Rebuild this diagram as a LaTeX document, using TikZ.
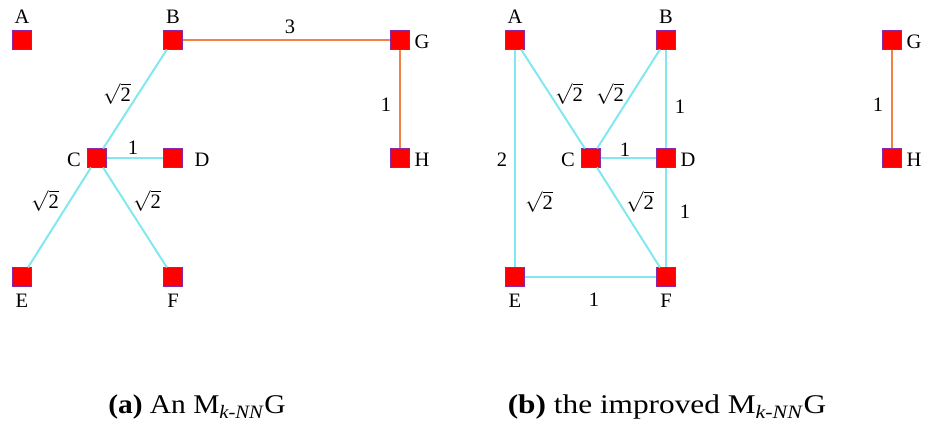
\documentclass[tikz,border=0pt]{standalone}
\usepackage{fontspec}
\setmainfont{Liberation Serif}
\newcommand{\rttwo}{\(\sqrt{\mbox{2}}\)}
\begin{document}
\begin{tikzpicture}[x=1pt,y=-1pt,
  vert/.style={draw={rgb,255:red,140;green,40;blue,170},line width=0.6pt,fill=red,minimum size=18.5pt,inner sep=0pt},
  lab/.style={font=\fontsize{20.5}{20.5}\selectfont,inner sep=1pt},
  elab/.style={font=\fontsize{20.5}{20.5}\selectfont,inner sep=1pt},
  cy/.style={draw={rgb,255:red,130;green,232;blue,240},line width=2pt},
  og/.style={draw={rgb,255:red,240;green,130;blue,70},line width=2pt},
  captext/.style={font=\fontsize{27}{27}\selectfont,inner sep=0pt}]
\useasboundingbox (0,0) rectangle (930,423);
% panel (a)
\node[vert] (A1) at (22,40) {};
\node[vert] (B1) at (173,40) {};
\node[vert] (G1) at (400,40) {};
\node[vert] (C1) at (97,158) {};
\node[vert] (D1) at (173,158) {};
\node[vert] (H1) at (400,158) {};
\node[vert] (E1) at (22,277) {};
\node[vert] (F1) at (173,277) {};
\draw[cy] (B1) -- (C1);
\draw[cy] (C1) -- (D1);
\draw[cy] (C1) -- (E1);
\draw[cy] (C1) -- (F1);
\draw[og] (B1) -- (G1);
\draw[og] (G1) -- (H1);
\node[lab] (lA1) at (22,17) {A};
\node[lab] (lB1) at (173,17) {B};
\node[lab] (lG1) at (422,42) {G};
\node[lab] (lC1) at (74,160) {C};
\node[lab] (lD1) at (202,160) {D};
\node[lab] (lH1) at (422,160) {H};
\node[lab] (lE1) at (22,301) {E};
\node[lab] (lF1) at (173,301) {F};
\node[elab] (w1) at (290,27) {3};
\node[elab] (w2) at (117,94) {\rttwo};
\node[elab] (w3) at (133,148) {1};
\node[elab] (w4) at (386,105) {1};
\node[elab] (w5) at (45,201) {\rttwo};
\node[elab] (w6) at (147,201) {\rttwo};
% panel (b)
\node[vert] (A2) at (515,40) {};
\node[vert] (B2) at (666,40) {};
\node[vert] (C2) at (591,158) {};
\node[vert] (D2) at (666,158) {};
\node[vert] (E2) at (515,277) {};
\node[vert] (F2) at (666,277) {};
\node[vert] (G2) at (892,40) {};
\node[vert] (H2) at (892,158) {};
\draw[cy] (A2) -- (C2);
\draw[cy] (B2) -- (C2);
\draw[cy] (B2) -- (D2);
\draw[cy] (A2) -- (E2);
\draw[cy] (C2) -- (D2);
\draw[cy] (C2) -- (F2);
\draw[cy] (D2) -- (F2);
\draw[cy] (E2) -- (F2);
\draw[og,line width=1.4pt] (G2) -- (H2);
\node[lab] (lA2) at (515,17) {A};
\node[lab] (lB2) at (666,17) {B};
\node[lab] (lC2) at (568,160) {C};
\node[lab] (lD2) at (688,160) {D};
\node[lab] (lE2) at (515,301) {E};
\node[lab] (lF2) at (666,301) {F};
\node[lab] (lG2) at (914,42) {G};
\node[lab] (lH2) at (914,160) {H};
\node[elab] (v1) at (569,94) {\rttwo};
\node[elab] (v2) at (610,94) {\rttwo};
\node[elab] (v3) at (680,107) {1};
\node[elab] (v4) at (502,160) {2};
\node[elab] (v5) at (625,150) {1};
\node[elab] (v6) at (539,202) {\rttwo};
\node[elab] (v7) at (640,202) {\rttwo};
\node[elab] (v8) at (685,212) {1};
\node[elab] (v9) at (594,300) {1};
\node[elab] (v10) at (878,105) {1};
% captions
\node[captext] (capa) at (197,407) {\scalebox{1.09}[1]{\textbf{(a)} An M\textsubscript{\textit{k-NN}}G}};
\node[captext] (capb) at (667,407) {\scalebox{1.16}[1]{\textbf{(b)} the improved M\textsubscript{\textit{k-NN}}G}};
\end{tikzpicture}
\end{document}
